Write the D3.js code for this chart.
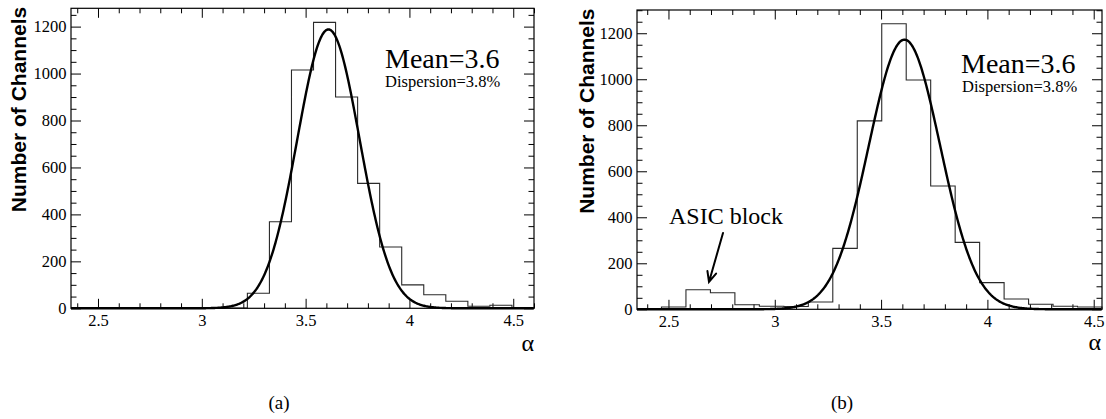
<!DOCTYPE html>
<html><head><meta charset="utf-8">
<script src="https://cdn.jsdelivr.net/npm/d3@7"></script>
<style>body{margin:0;background:#fff}svg{display:block}</style>
</head><body>
<svg id="chart" width="1106" height="419"></svg>
<script>
// ---- data ----
const binCountsA = [0,0,0,0,0,0,0,1,64,369,1015,1218,900,532,261,100,58,30,9,13,2];
const binCountsB = [0,10,85,72,20,13,12,32,265,819,1241,997,536,291,116,45,22,13,10];
const alphaRangeA = [2.37, 4.6];
const alphaRangeB = [2.352, 4.539];
const fitA = {amp: 1188, mean: 3.61, sigma: 0.150};
const fitB = {amp: 1172, mean: 3.61, sigma: 0.168};
const xMajorTicks = [2.5, 3, 3.5, 4, 4.5];
const yMajorTicks = [0, 200, 400, 600, 800, 1000, 1200];
const captions = ["(a)", "(b)"];
const meanText = "Mean=3.6";
const dispText = "Dispersion=3.8%";
const yTitle = "Number of Channels";
const xTitle = "α";
const annotationText = "ASIC block";

// ---- layout ----
const svg = d3.select("#chart");
svg.append("rect").attr("width",1106).attr("height",419).attr("fill","#fff");
const SERIF = "'Liberation Serif','Times New Roman',serif";
const SANS = "'Liberation Sans',Arial,sans-serif";

const panels = [
  {counts: binCountsA, range: alphaRangeA, fit: fitA, caption: captions[0],
   left: 71, right: 534, top: 8.3, bottom: 308.3, yMax: 1278,
   meanX: 385, meanY: 68, dispX: 385, dispY: 87, titleX: 25.5, alphaX: 534, alphaY: 351, capX: 279},
  {counts: binCountsB, range: alphaRangeB, fit: fitB, caption: captions[1],
   left: 637, right: 1102, top: 10, bottom: 309.3, yMax: 1301,
   meanX: 961, meanY: 73, dispX: 962, dispY: 92, titleX: 594, alphaX: 1101, alphaY: 350, capX: 842,
   annot: true}
];

panels.forEach(p => {
  const x = d3.scaleLinear().domain(p.range).range([p.left, p.right]);
  const y = d3.scaleLinear().domain([0, p.yMax]).range([p.bottom, p.top]);
  const g = svg.append("g");

  const xMinor = d3.range(Math.ceil(p.range[0]*10), Math.floor(p.range[1]*10)+1).map(v => v/10)
      .filter(v => Math.abs(v*2 - Math.round(v*2)) > 1e-6);
  const yMinor = d3.range(0, p.yMax, 50).filter(v => v % 200 !== 0);

  function styleAxis(sel, labels) {
    sel.select(".domain").remove();
    sel.selectAll("line").attr("stroke", "#000").attr("stroke-width", 1);
    sel.attr("font-family", null).attr("font-size", null);
    sel.selectAll("text").attr("fill", "#000")
      .style("font-family", SERIF).style("font-size", "16.5px");
    if (!labels) sel.selectAll("text").remove();
  }

  // bottom axis
  g.append("g").attr("transform", `translate(0,${p.bottom})`)
    .call(d3.axisBottom(x).tickValues(xMajorTicks).tickSize(-9.5).tickPadding(5.5).tickFormat(d3.format("")))
    .call(s => styleAxis(s, true));
  g.append("g").attr("transform", `translate(0,${p.bottom})`)
    .call(d3.axisBottom(x).tickValues(xMinor).tickSize(-5).tickFormat(""))
    .call(s => styleAxis(s, false));
  // top axis
  g.append("g").attr("transform", `translate(0,${p.top})`)
    .call(d3.axisTop(x).tickValues(xMajorTicks).tickSize(-9.5).tickFormat(""))
    .call(s => styleAxis(s, false));
  g.append("g").attr("transform", `translate(0,${p.top})`)
    .call(d3.axisTop(x).tickValues(xMinor).tickSize(-5).tickFormat(""))
    .call(s => styleAxis(s, false));
  // left axis
  g.append("g").attr("transform", `translate(${p.left},0)`)
    .call(d3.axisLeft(y).tickValues(yMajorTicks).tickSize(-10).tickPadding(4.5).tickFormat(d3.format("d")))
    .call(s => styleAxis(s, true));
  g.append("g").attr("transform", `translate(${p.left},0)`)
    .call(d3.axisLeft(y).tickValues(yMinor).tickSize(-5.5).tickFormat(""))
    .call(s => styleAxis(s, false));
  // right axis
  g.append("g").attr("transform", `translate(${p.right},0)`)
    .call(d3.axisRight(y).tickValues(yMajorTicks).tickSize(-10).tickFormat(""))
    .call(s => styleAxis(s, false));
  g.append("g").attr("transform", `translate(${p.right},0)`)
    .call(d3.axisRight(y).tickValues(yMinor).tickSize(-5.5).tickFormat(""))
    .call(s => styleAxis(s, false));

  // histogram
  const n = p.counts.length;
  const w = (p.range[1] - p.range[0]) / n;
  const edges = d3.range(n + 1).map(i => p.range[0] + i * w);
  let d = `M${x(edges[0])},${y(0)}`;
  p.counts.forEach((c, i) => { d += `V${y(c)}H${x(edges[i+1])}`; });
  d += `V${y(0)}`;
  g.append("path").attr("d", d).attr("fill", "none").attr("stroke", "#2a2a2a").attr("stroke-width", 1.1);

  // gaussian fit curve
  const f = p.fit;
  const pts = d3.range(p.range[0], p.range[1] + 1e-9, 0.004)
    .map(a => [a, f.amp * Math.exp(-0.5 * Math.pow((a - f.mean) / f.sigma, 2))]);
  g.append("path").datum(pts)
    .attr("d", d3.line().x(v => x(v[0])).y(v => y(v[1])))
    .attr("fill", "none").attr("stroke", "#000").attr("stroke-width", 2.4);

  // frame
  g.append("rect").attr("x", p.left).attr("y", p.top)
    .attr("width", p.right - p.left).attr("height", p.bottom - p.top)
    .attr("fill", "none").attr("stroke", "#000").attr("stroke-width", 1.2);

  // stats text
  g.append("text").attr("x", p.meanX).attr("y", p.meanY)
    .style("font-family", SERIF).style("font-size", "28px").text(meanText);
  g.append("text").attr("x", p.dispX).attr("y", p.dispY)
    .style("font-family", SERIF).style("font-size", "16.5px").text(dispText);

  // axis titles
  g.append("text").attr("transform", `translate(${p.titleX},${p.top - 1.5}) rotate(-90)`)
    .attr("text-anchor", "end").style("font-family", SANS).style("font-weight", "bold")
    .style("font-size", "21px").text(yTitle);
  g.append("text").attr("x", p.alphaX).attr("y", p.alphaY).attr("text-anchor", "end")
    .style("font-family", SERIF).style("font-size", "24px").text(xTitle);

  // caption
  svg.append("text").attr("x", p.capX).attr("y", 409).attr("text-anchor", "middle")
    .style("font-family", SERIF).style("font-size", "19px").text(p.caption);

  if (p.annot) {
    g.append("text").attr("x", 669).attr("y", 224)
      .style("font-family", SERIF).style("font-size", "24px").text(annotationText);
    const x1 = 723, y1 = 233, x2 = 709, y2 = 282;
    const ang = Math.atan2(y2 - y1, x2 - x1);
    const L = 11, spread = 0.42;
    const h1 = [x2 - L*Math.cos(ang - spread), y2 - L*Math.sin(ang - spread)];
    const h2 = [x2 - L*Math.cos(ang + spread), y2 - L*Math.sin(ang + spread)];
    g.append("path").attr("d", `M${x1},${y1}L${x2},${y2}M${h1[0]},${h1[1]}L${x2},${y2}L${h2[0]},${h2[1]}`)
      .attr("fill", "none").attr("stroke", "#000").attr("stroke-width", 2).attr("stroke-linecap", "round");
  }
});
</script>
</body></html>
